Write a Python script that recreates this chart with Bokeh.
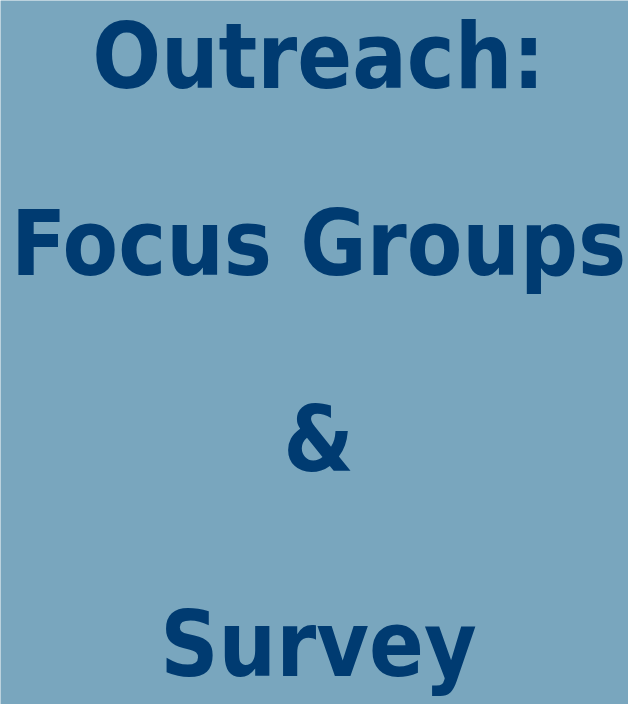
from bokeh.plotting import figure
from bokeh.models import Range1d, ColumnDataSource
from bokeh.core.properties import value
from bokeh.embed import file_html
from bokeh.resources import INLINE

# Content
lines = ["Outreach:", "Focus Groups", "&", "Survey"]

# Layout (page pixel coordinates)
line_x = [326, 326, 326, 326]
line_baseline = [64, 251, 447, 652]

BG = "#79A6BE"
FG = "#003B71"

p = figure(width=628, height=704, output_backend="svg", toolbar_location=None,
           x_range=Range1d(8, 636), y_range=Range1d(712, 8),
           background_fill_color=BG, border_fill_color=BG,
           min_border=0, outline_line_color=None)
p.axis.visible = False
p.grid.visible = False

src = ColumnDataSource(dict(x=line_x, y=line_baseline, t=lines))
p.text(x="x", y="y", text="t", source=src,
       text_font=value("DejaVu Sans Condensed"), text_font_style="bold",
       text_font_size="90px", text_color=FG,
       text_align="center", text_baseline="alphabetic")

open("out.html", "w").write(file_html(p, INLINE))
